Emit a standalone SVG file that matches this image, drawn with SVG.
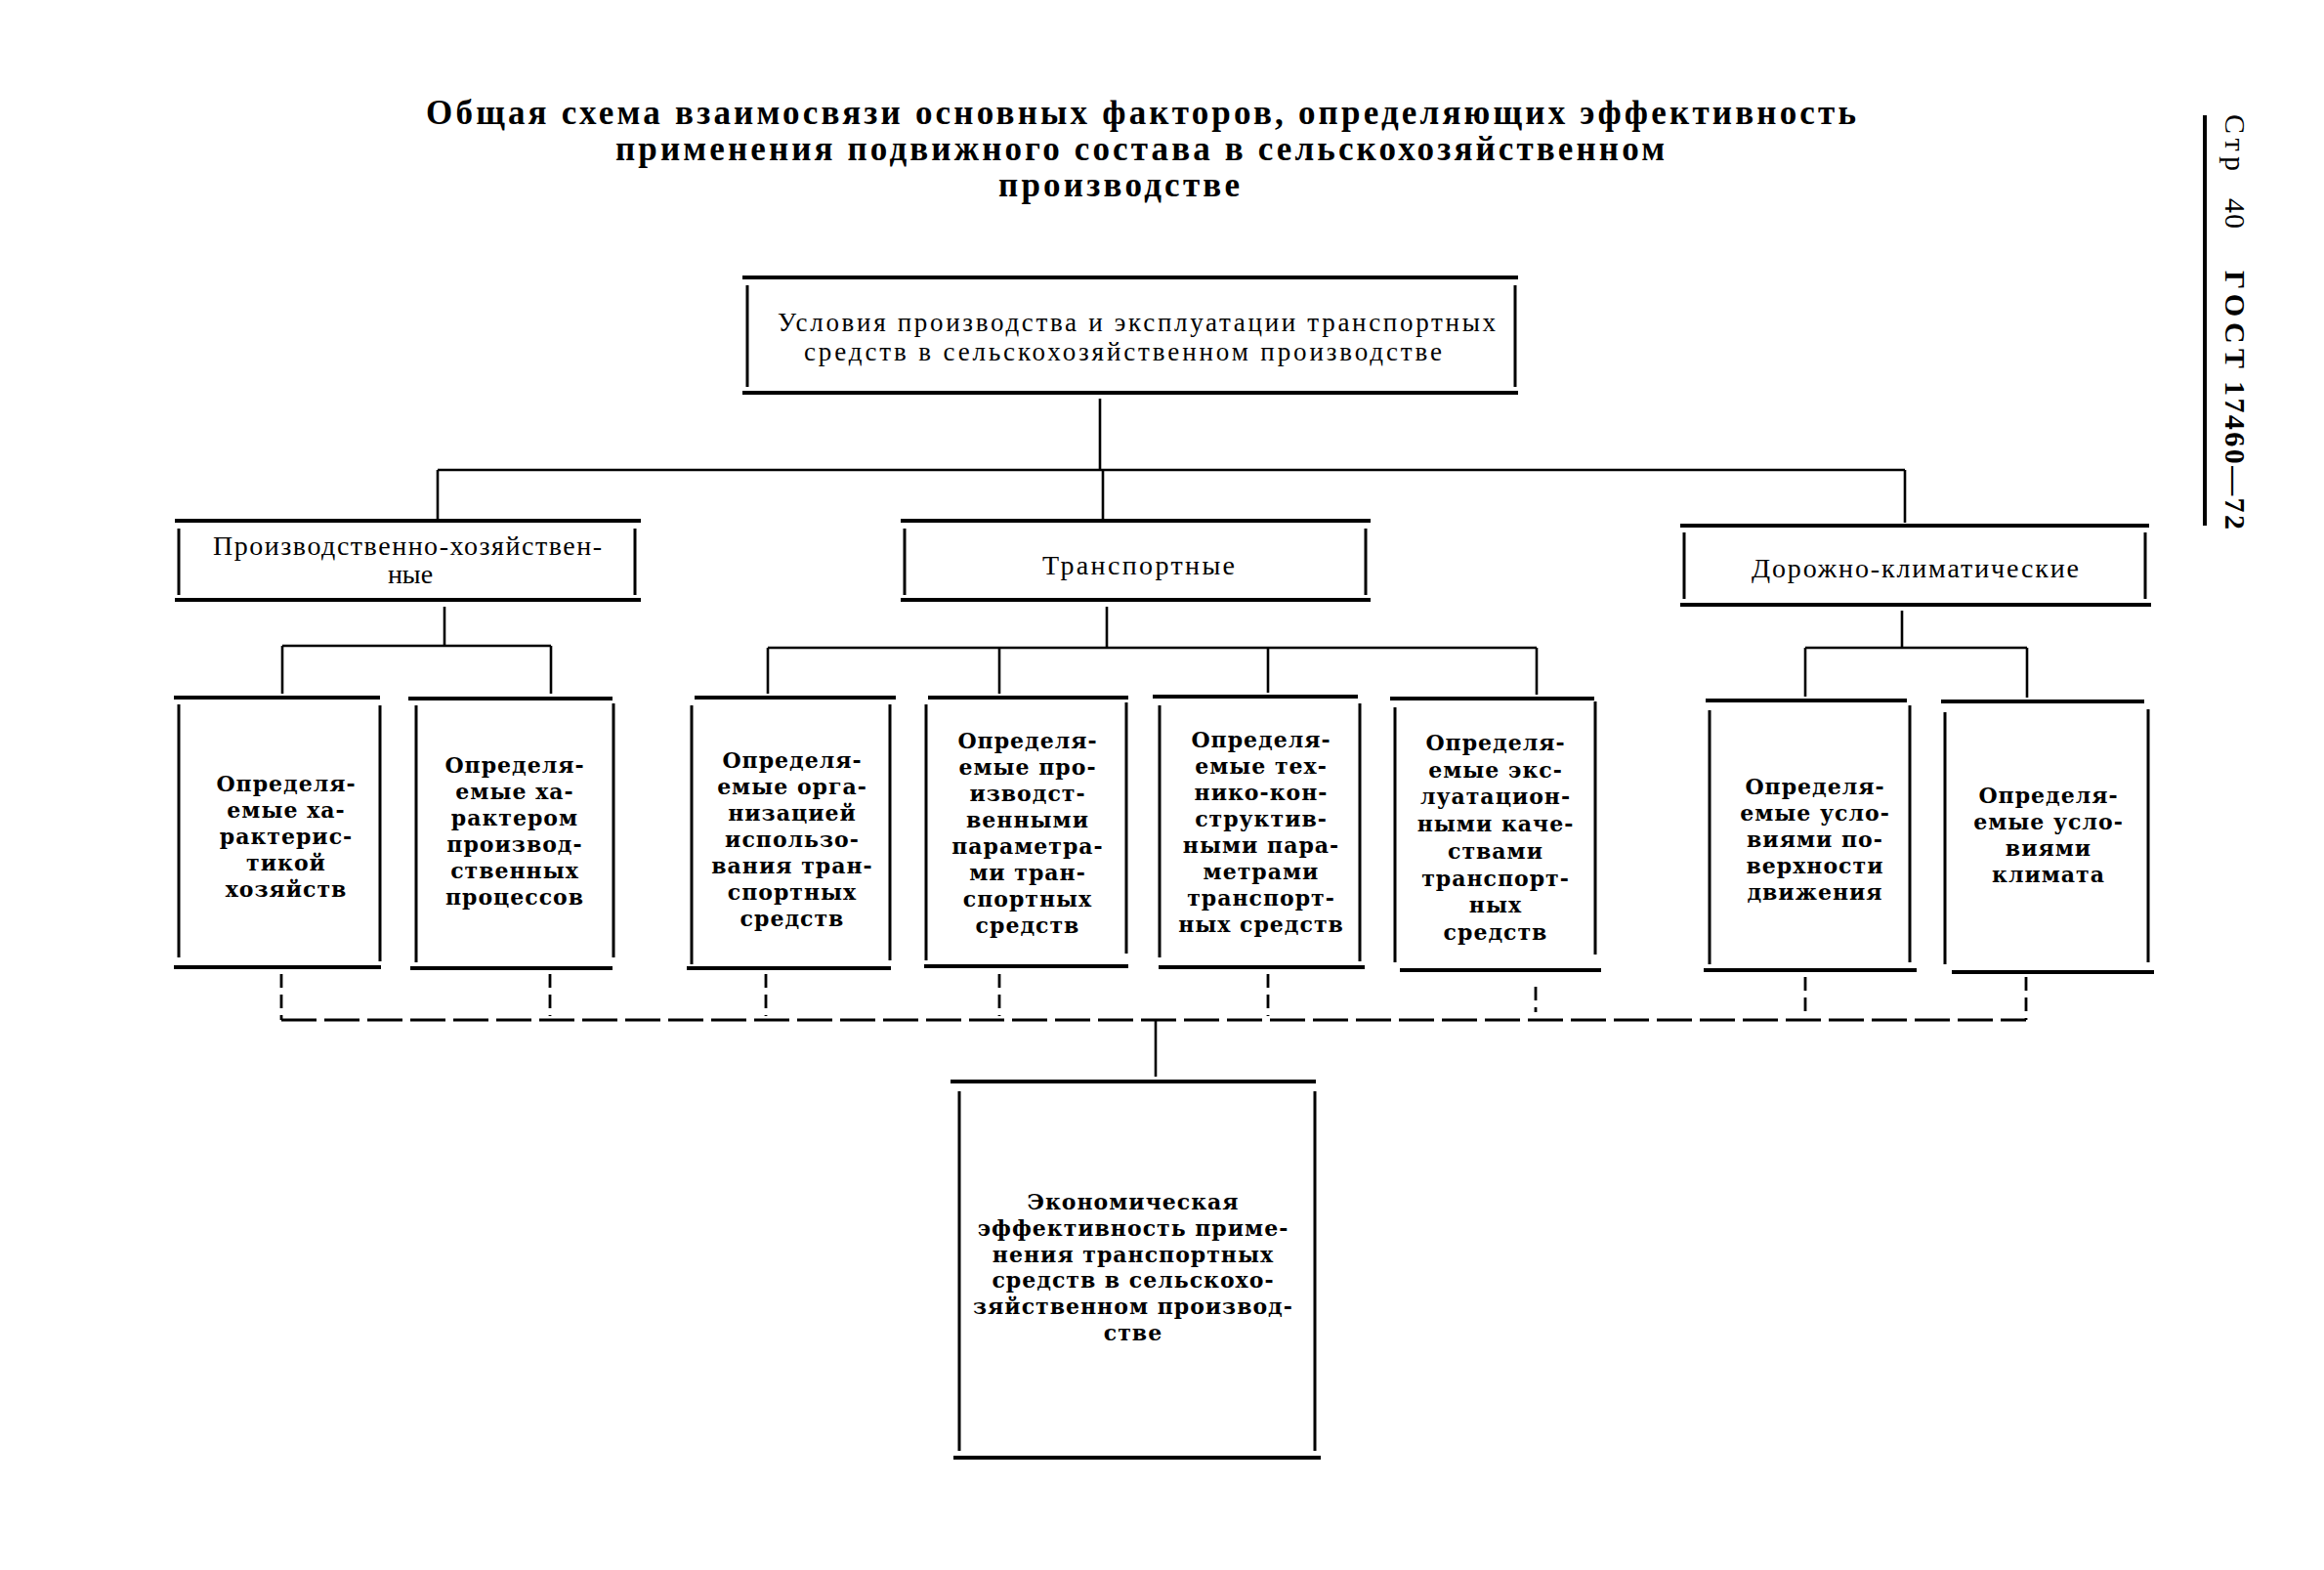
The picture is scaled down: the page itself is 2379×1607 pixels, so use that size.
<svg xmlns="http://www.w3.org/2000/svg" width="2379" height="1607" viewBox="0 0 2379 1607">
<style>
.hb{stroke:#000;stroke-width:4;fill:none;stroke-linecap:square}
.vb{stroke:#000;stroke-width:3;fill:none}
.cn{stroke:#000;stroke-width:2.6;fill:none}
.ds{stroke:#000;stroke-width:2.8;fill:none;stroke-dasharray:36 8}
.dv{stroke:#000;stroke-width:2.8;fill:none;stroke-dasharray:14 7}
.title{font-family:"Liberation Serif","Times New Roman",serif;font-weight:bold;font-size:35px;fill:#000}
.lab{font-family:"Liberation Serif","Times New Roman",serif;font-size:28px;fill:#000}
.tl{font-family:"Liberation Serif","Times New Roman",serif;font-size:27px;fill:#000}
.bx{font-family:"DejaVu Serif",serif;font-weight:bold;font-size:22px;letter-spacing:1px;fill:#000;text-anchor:middle}
.side{font-family:"Liberation Serif","Times New Roman",serif;font-size:30px;fill:#000}
</style>
<rect x="0" y="0" width="2379" height="1607" fill="#fff"/>

<g id="title">
<text class="title" x="436" y="127" textLength="1464" lengthAdjust="spacing">Общая схема взаимосвязи основных факторов, определяющих эффективность</text>
<text class="title" x="630" y="164" textLength="1074" lengthAdjust="spacing">применения подвижного состава в сельскохозяйственном</text>
<text class="title" x="1022" y="201" textLength="247" lengthAdjust="spacing">производстве</text>
</g>

<g id="side-header">
<line x1="2257" y1="118" x2="2257" y2="538" stroke="#000" stroke-width="4"/>
<text class="side" transform="translate(2278,117) rotate(90)" textLength="58" lengthAdjust="spacing">Стр</text>
<text class="side" transform="translate(2278,203) rotate(90)" textLength="31" lengthAdjust="spacing">40</text>
<text class="side" transform="translate(2278,277) rotate(90)" font-weight="bold" textLength="100" lengthAdjust="spacing">ГОСТ</text>
<text class="side" transform="translate(2278,390) rotate(90)" font-weight="bold" textLength="152" lengthAdjust="spacing">17460—72</text>
</g>

<g id="connectors">
<line class="cn" x1="1126" y1="408" x2="1126" y2="481"/>
<line class="cn" x1="448" y1="481" x2="1950" y2="481"/>
<line class="cn" x1="448" y1="481" x2="448" y2="531"/>
<line class="cn" x1="1129" y1="481" x2="1129" y2="531"/>
<line class="cn" x1="1950" y1="481" x2="1950" y2="535"/>

<line class="cn" x1="455" y1="621" x2="455" y2="661"/>
<line class="cn" x1="289" y1="661" x2="564" y2="661"/>
<line class="cn" x1="289" y1="661" x2="289" y2="710"/>
<line class="cn" x1="564" y1="661" x2="564" y2="710"/>

<line class="cn" x1="1133" y1="621" x2="1133" y2="663"/>
<line class="cn" x1="786" y1="663" x2="1573" y2="663"/>
<line class="cn" x1="786" y1="663" x2="786" y2="710"/>
<line class="cn" x1="1023" y1="663" x2="1023" y2="710"/>
<line class="cn" x1="1298" y1="663" x2="1298" y2="709"/>
<line class="cn" x1="1573" y1="663" x2="1573" y2="711"/>

<line class="cn" x1="1947" y1="625" x2="1947" y2="663"/>
<line class="cn" x1="1848" y1="663" x2="2075" y2="663"/>
<line class="cn" x1="1848" y1="663" x2="1848" y2="713"/>
<line class="cn" x1="2075" y1="663" x2="2075" y2="714"/>

<line class="ds" x1="288" y1="1044" x2="2074" y2="1044"/>
<line class="dv" x1="288" y1="997" x2="288" y2="1044"/>
<line class="dv" x1="563" y1="997" x2="563" y2="1040"/>
<line class="dv" x1="784" y1="997" x2="784" y2="1040"/>
<line class="dv" x1="1023" y1="997" x2="1023" y2="1040"/>
<line class="dv" x1="1298" y1="997" x2="1298" y2="1040"/>
<line class="dv" x1="1572" y1="1010" x2="1572" y2="1036"/>
<line class="dv" x1="1848" y1="1000" x2="1848" y2="1040"/>
<line class="dv" x1="2074" y1="1000" x2="2074" y2="1044"/>
<line class="cn" x1="1183" y1="1044" x2="1183" y2="1102"/>
</g>

<g id="node-top">
<line class="hb" x1="762" y1="284" x2="1552" y2="284"/>
<line class="hb" x1="762" y1="402" x2="1552" y2="402"/>
<line class="vb" x1="765" y1="292" x2="765" y2="396"/>
<line class="vb" x1="1551" y1="292" x2="1551" y2="396"/>
<text class="tl" x="796" y="339" textLength="735" lengthAdjust="spacing">Условия производства и эксплуатации транспортных</text>
<text class="tl" x="823" y="369" textLength="653" lengthAdjust="spacing">средств в сельскохозяйственном производстве</text>
</g>

<g id="node-prod">
<line class="hb" x1="181" y1="533" x2="654" y2="533"/>
<line class="hb" x1="181" y1="614" x2="654" y2="614"/>
<line class="vb" x1="183" y1="541" x2="183" y2="609"/>
<line class="vb" x1="650" y1="541" x2="650" y2="609"/>
<text class="lab" x="218" y="568" textLength="398" lengthAdjust="spacing">Производственно-хозяйствен-</text>
<text class="lab" x="420" y="597" text-anchor="middle">ные</text>
</g>

<g id="node-trans">
<line class="hb" x1="924" y1="533" x2="1401" y2="533"/>
<line class="hb" x1="924" y1="614" x2="1401" y2="614"/>
<line class="vb" x1="926" y1="541" x2="926" y2="609"/>
<line class="vb" x1="1398" y1="541" x2="1398" y2="609"/>
<text class="lab" x="1067" y="588" textLength="197" lengthAdjust="spacing">Транспортные</text>
</g>

<g id="node-road">
<line class="hb" x1="1722" y1="538" x2="2198" y2="538"/>
<line class="hb" x1="1722" y1="619" x2="2200" y2="619"/>
<line class="vb" x1="1724" y1="545" x2="1724" y2="613"/>
<line class="vb" x1="2196" y1="545" x2="2196" y2="613"/>
<text class="lab" x="1793" y="591" textLength="335" lengthAdjust="spacing">Дорожно-климатические</text>
</g>

<g id="node-b1">
<line class="hb" x1="180" y1="714" x2="387" y2="714"/>
<line class="hb" x1="180" y1="990" x2="388" y2="990"/>
<line class="vb" x1="183" y1="721" x2="183" y2="980"/>
<line class="vb" x1="389" y1="722" x2="389" y2="984"/>
<text class="bx"><tspan x="293" y="810">Определя-</tspan><tspan x="293" y="837">емые ха-</tspan><tspan x="293" y="864">рактерис-</tspan><tspan x="293" y="891">тикой</tspan><tspan x="293" y="918">хозяйств</tspan></text>
</g>

<g id="node-b2">
<line class="hb" x1="420" y1="715" x2="625" y2="715"/>
<line class="hb" x1="422" y1="991" x2="625" y2="991"/>
<line class="vb" x1="426" y1="722" x2="426" y2="985"/>
<line class="vb" x1="628" y1="720" x2="628" y2="980"/>
<text class="bx"><tspan x="527" y="791">Определя-</tspan><tspan x="527" y="818">емые ха-</tspan><tspan x="527" y="845">рактером</tspan><tspan x="527" y="872">производ-</tspan><tspan x="527" y="899">ственных</tspan><tspan x="527" y="926">процессов</tspan></text>
</g>

<g id="node-b3">
<line class="hb" x1="713" y1="714" x2="915" y2="714"/>
<line class="hb" x1="705" y1="991" x2="910" y2="991"/>
<line class="vb" x1="708" y1="722" x2="708" y2="987"/>
<line class="vb" x1="911" y1="721" x2="911" y2="983"/>
<text class="bx"><tspan x="811" y="786">Определя-</tspan><tspan x="811" y="813">емые орга-</tspan><tspan x="811" y="840">низацией</tspan><tspan x="811" y="867">использо-</tspan><tspan x="811" y="894">вания тран-</tspan><tspan x="811" y="921">спортных</tspan><tspan x="811" y="948">средств</tspan></text>
</g>

<g id="node-b4">
<line class="hb" x1="952" y1="714" x2="1153" y2="714"/>
<line class="hb" x1="948" y1="989" x2="1153" y2="989"/>
<line class="vb" x1="948" y1="721" x2="948" y2="983"/>
<line class="vb" x1="1153" y1="719" x2="1153" y2="976"/>
<text class="bx"><tspan x="1052" y="766">Определя-</tspan><tspan x="1052" y="793">емые про-</tspan><tspan x="1052" y="820">изводст-</tspan><tspan x="1052" y="847">венными</tspan><tspan x="1052" y="874">параметра-</tspan><tspan x="1052" y="901">ми тран-</tspan><tspan x="1052" y="928">спортных</tspan><tspan x="1052" y="955">средств</tspan></text>
</g>

<g id="node-b5">
<line class="hb" x1="1182" y1="713" x2="1388" y2="713"/>
<line class="hb" x1="1188" y1="990" x2="1395" y2="990"/>
<line class="vb" x1="1187" y1="722" x2="1187" y2="980"/>
<line class="vb" x1="1392" y1="720" x2="1392" y2="984"/>
<text class="bx"><tspan x="1291" y="765">Определя-</tspan><tspan x="1291" y="792">емые тех-</tspan><tspan x="1291" y="819">нико-кон-</tspan><tspan x="1291" y="846">структив-</tspan><tspan x="1291" y="873">ными пара-</tspan><tspan x="1291" y="900">метрами</tspan><tspan x="1291" y="927">транспорт-</tspan><tspan x="1291" y="954">ных средств</tspan></text>
</g>

<g id="node-b6">
<line class="hb" x1="1425" y1="715" x2="1630" y2="715"/>
<line class="hb" x1="1435" y1="993" x2="1637" y2="993"/>
<line class="vb" x1="1428" y1="724" x2="1428" y2="985"/>
<line class="vb" x1="1633" y1="718" x2="1633" y2="977"/>
<text class="bx"><tspan x="1531" y="768">Определя-</tspan><tspan x="1531" y="796">емые экс-</tspan><tspan x="1531" y="823">луатацион-</tspan><tspan x="1531" y="851">ными каче-</tspan><tspan x="1531" y="879">ствами</tspan><tspan x="1531" y="907">транспорт-</tspan><tspan x="1531" y="934">ных</tspan><tspan x="1531" y="962">средств</tspan></text>
</g>

<g id="node-b7">
<line class="hb" x1="1748" y1="717" x2="1950" y2="717"/>
<line class="hb" x1="1746" y1="993" x2="1960" y2="993"/>
<line class="vb" x1="1750" y1="727" x2="1750" y2="987"/>
<line class="vb" x1="1955" y1="722" x2="1955" y2="985"/>
<text class="bx"><tspan x="1858" y="813">Определя-</tspan><tspan x="1858" y="840">емые усло-</tspan><tspan x="1858" y="867">виями по-</tspan><tspan x="1858" y="894">верхности</tspan><tspan x="1858" y="921">движения</tspan></text>
</g>

<g id="node-b8">
<line class="hb" x1="1989" y1="718" x2="2193" y2="718"/>
<line class="hb" x1="2000" y1="995" x2="2203" y2="995"/>
<line class="vb" x1="1991" y1="729" x2="1991" y2="987"/>
<line class="vb" x1="2199" y1="726" x2="2199" y2="985"/>
<text class="bx"><tspan x="2097" y="822">Определя-</tspan><tspan x="2097" y="849">емые усло-</tspan><tspan x="2097" y="876">виями</tspan><tspan x="2097" y="903">климата</tspan></text>
</g>

<g id="node-econ">
<line class="hb" x1="975" y1="1107" x2="1345" y2="1107"/>
<line class="hb" x1="978" y1="1492" x2="1350" y2="1492"/>
<line class="vb" x1="982" y1="1117" x2="982" y2="1485"/>
<line class="vb" x1="1346" y1="1117" x2="1346" y2="1485"/>
<text class="bx"><tspan x="1160" y="1238">Экономическая</tspan><tspan x="1160" y="1265">эффективность приме-</tspan><tspan x="1160" y="1292">нения транспортных</tspan><tspan x="1160" y="1318">средств в сельскохо-</tspan><tspan x="1160" y="1345">зяйственном производ-</tspan><tspan x="1160" y="1372">стве</tspan></text>
</g>
</svg>
